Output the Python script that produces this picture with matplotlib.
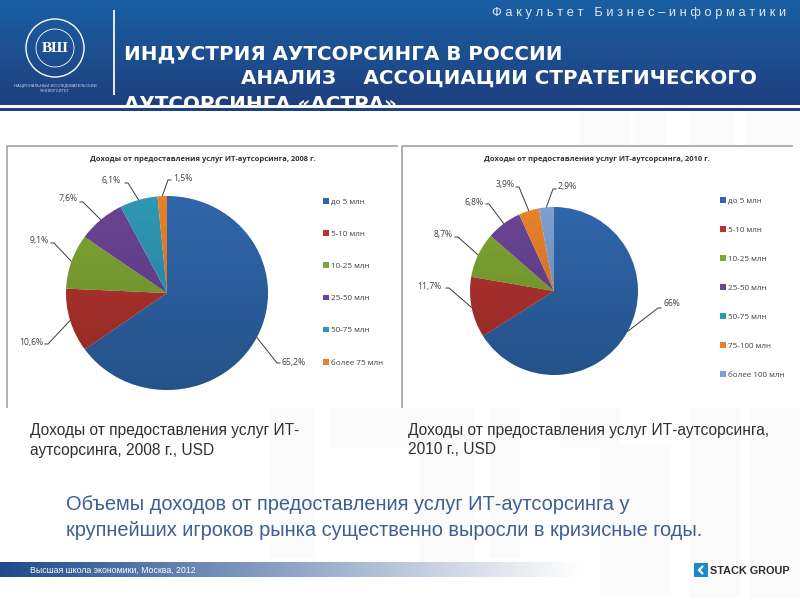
import numpy as np
import matplotlib
matplotlib.use("Agg")
import matplotlib.pyplot as plt
from matplotlib.patches import Rectangle, Circle, Polygon

# ---- data ----
cats_2008 = ["до 5 млн", "5-10 млн", "10-25 млн", "25-50 млн", "50-75 млн", "более 75 млн"]
vals_2008 = [65.2, 10.6, 9.1, 7.6, 6.1, 1.5]
labels_2008 = ["65,2%", "10,6%", "9,1%", "7,6%", "6,1%", "1,5%"]
cats_2010 = ["до 5 млн", "5-10 млн", "10-25 млн", "25-50 млн", "50-75 млн", "75-100 млн", "более 100 млн"]
vals_2010 = [66, 11.7, 8.7, 6.8, 0, 3.9, 2.9]
labels_2010 = ["66%", "11,7%", "8,7%", "6,8%", "", "3,9%", "2,9%"]

# ---- styles / layout ----
colors_2008 = ["#2f66ab", "#b5342f", "#7fa533", "#6a4495", "#2f97b4", "#e8822a"]
colors_2010 = ["#2f66ab", "#b5342f", "#7fa533", "#6a4495", "#2f97b4", "#e8822a", "#7f9fd0"]
LABEL_POS_2008 = [(294, 363), (31, 342), (39, 241), (68, 199), (111, 181), (183, 178)]
ELBOW_2008 = [(277, 363), (48, 344), (54, 243), (83, 202), (128, 183), (168, 180)]
LABEL_POS_2010 = [(672, 304), (429, 287), (443, 235), (474, 203), None, (505, 184), (567, 187)]
ELBOW_2010 = [(658, 308), (449, 288), (458, 237), (489, 204), None, (519, 187), (553, 189)]

plt.rcParams["font.family"] = ["Liberation Sans", "DejaVu Sans"]
fig = plt.figure(figsize=(8, 6), dpi=100, facecolor="white")
bg = fig.add_axes([0, 0, 1, 1], zorder=0)
bg.set_xlim(0, 800); bg.set_ylim(600, 0); bg.axis("off")


def vgrad(ax, x0, x1, y0, y1, c0, c1, z):
    c0 = np.array(matplotlib.colors.to_rgb(c0)); c1 = np.array(matplotlib.colors.to_rgb(c1))
    t = np.linspace(0, 1, 128)[:, None, None]
    ax.imshow(c0 + (c1 - c0) * t, extent=[x0, x1, y1, y0], aspect="auto", zorder=z)


# watermark
for r in [(580, 111, 50, 34), (635, 111, 30, 34), (690, 111, 45, 34), (745, 111, 55, 34),
          (270, 408, 45, 150), (330, 408, 90, 40), (420, 408, 55, 155), (490, 408, 30, 150),
          (560, 408, 60, 40), (600, 445, 70, 150), (690, 408, 50, 190), (750, 408, 50, 190)]:
    bg.add_patch(Rectangle(r[:2], r[2], r[3], fc="#fbfbfb", ec="none", zorder=0.5))

# header
vgrad(bg, 0, 800, 0, 105, "#1a5fa3", "#1f3f7e", 1)
bg.add_patch(Rectangle((0, 105), 800, 3, fc="#f4f7fb", ec="none", zorder=3))
bg.add_patch(Rectangle((0, 108), 800, 3, fc="#1f3f7e", ec="none", zorder=3))
bg.add_patch(Rectangle((0, 111), 580, 33, fc="white", ec="none", zorder=2.9))
bg.add_patch(Rectangle((112.5, 10), 2.5, 85, fc="#dfe7f2", ec="none", zorder=2))
for rad, lw in [(29, 1.0), (19, 0.6)]:
    bg.add_patch(Circle((55, 48), rad, fc="none", ec="white", lw=lw, zorder=2))
bg.text(55, 48, "ВШ", color="white", fontsize=11, fontweight="bold", ha="center", va="center",
        family="Liberation Serif", zorder=2)
bg.text(55, 85.5, "НАЦИОНАЛЬНЫЙ ИССЛЕДОВАТЕЛЬСКИЙ", color="#cdd8e8", fontsize=2.9, ha="center", va="center", zorder=2)
bg.text(55, 90.5, "УНИВЕРСИТЕТ", color="#cdd8e8", fontsize=2.9, ha="center", va="center", zorder=2)
bg.text(786, 13, "Ф а к у л ь т е т   Б и з н е с – и н ф о р м а т и к и", color="#dfe7f2", fontsize=9.3,
        ha="right", va="center", zorder=2)
title_kw = dict(color="white", fontsize=14.3, fontweight="bold", family="DejaVu Sans", va="center", zorder=2)
bg.text(124, 54, "ИНДУСТРИЯ АУТСОРСИНГА В РОССИИ", **title_kw)
bg.text(241, 78, "АНАЛИЗ    АССОЦИАЦИИ СТРАТЕГИЧЕСКОГО", **title_kw)
bg.text(124, 104, "АУТСОРСИНГА «АСТРА»", **title_kw)

# chart panels
bg.add_patch(Rectangle((7, 146), 391, 262, fc="white", ec="none", zorder=3))
bg.add_patch(Rectangle((402, 146), 392, 262, fc="white", ec="none", zorder=3))
for xs, ys in [((6.5, 6.5, 398), (408, 145.5, 145.5)), ((402, 402, 793), (408, 145.5, 145.5))]:
    bg.plot(xs, ys, color="#9a9a9a", lw=1.1, zorder=3.5, solid_capstyle="butt")

chart_font = "Open Sans"


def draw_pie(vals, cols, cats, labels, cx, cy, rx, ry, lpos, elbow, title, tx, lx, ly, spacing):
    ax = fig.add_axes([(cx - rx) / 800, 1 - (cy + ry) / 600, 2 * rx / 800, 2 * ry / 600], zorder=2)
    wedges, _ = ax.pie(vals, colors=cols, startangle=90, counterclock=False, radius=1.0,
                       wedgeprops=dict(lw=0))
    ax.set_aspect("auto")
    # soft top-to-bottom shading of the pie
    shade = np.zeros((128, 1, 4)); shade[:, 0, 3] = np.linspace(0, 0.2, 128)
    im = ax.imshow(shade, extent=[-1, 1, -1, 1], aspect="auto", zorder=3)
    im.set_clip_path(Circle((0, 0), 1, transform=ax.transData))
    ax.set_xlim(-1, 1); ax.set_ylim(-1, 1)
    total = sum(vals); start = 0
    for v, lab, lp, el in zip(vals, labels, lpos, elbow):
        mid = start + v / 2; start += v
        if not lab:
            continue
        ang = np.deg2rad(90 - mid / total * 360)
        wx, wy = cx + rx * np.cos(ang), cy - ry * np.sin(ang)
        side = -1 if lp[0] < el[0] else 1
        bg.plot([el[0] + side * 3, el[0], wx], [el[1], el[1], wy], color="#3a3a3a", lw=0.7, zorder=4)
        bg.text(lp[0], lp[1], lab, fontsize=6.2, color="#404040", ha="center", va="center", family=chart_font, zorder=4)
    bg.text(tx, 159.5, title, fontsize=5.4, fontweight="bold", color="#303030", ha="center", va="center",
            family=chart_font, zorder=4)
    ax.legend(wedges, cats, loc="upper left", bbox_to_anchor=(lx / 800, 1 - ly / 600),
              bbox_transform=fig.transFigure, frameon=False, borderpad=0, borderaxespad=0,
              labelspacing=spacing, handlelength=0.7, handleheight=0.7, handletextpad=0.35,
              prop=dict(family=chart_font, size=5.8), labelcolor="#404040")
    return ax


draw_pie(vals_2008, colors_2008, cats_2008, labels_2008, 167, 293, 101, 97, LABEL_POS_2008, ELBOW_2008,
         "Доходы от предоставления услуг ИТ-аутсорсинга, 2008 г.", 203, 323, 198, 3.05)
draw_pie(vals_2010, colors_2010, cats_2010, labels_2010, 554, 291, 84, 84, LABEL_POS_2010, ELBOW_2010,
         "Доходы от предоставления услуг ИТ-аутсорсинга, 2010 г.", 597, 720, 197, 2.65)

# captions
cap = dict(fontsize=11.2, color="#303030", va="center", zorder=4)
bg.text(30, 430, "Доходы от предоставления услуг ИТ-", **cap)
bg.text(30, 450, "аутсорсинга, 2008 г., USD", **cap)
bg.text(408, 430, "Доходы от предоставления услуг ИТ-аутсорсинга,", **cap)
bg.text(408, 450, "2010 г., USD", **cap)
body = dict(fontsize=14.4, color="#3d5f93", va="center", zorder=4)
bg.text(66, 505, "Объемы доходов от предоставления услуг ИТ-аутсорсинга у", **body)
bg.text(66, 530, "крупнейших игроков рынка существенно выросли в кризисные годы.", **body)

# footer
t = np.linspace(0, 1, 256)[None, :, None]
c0 = np.array(matplotlib.colors.to_rgb("#1f4a8c")); c1 = np.array([1, 1, 1.])
bg.imshow(np.clip(c0 + (c1 - c0) * t, 0, 1), extent=[0, 580, 577.5, 563], aspect="auto", zorder=3)
bg.text(30, 570.5, "Высшая школа экономики, Москва, 2012", fontsize=6.3, color="white", va="center", zorder=4)
bg.add_patch(Rectangle((693.5, 563), 14, 14, fc="#1f88c9", ec="none", zorder=4))
bg.add_patch(Polygon([(703, 566), (699, 570), (703, 574)], closed=False, fc="none", ec="white", lw=1.6, zorder=5))
bg.text(710.5, 570.5, "STACK GROUP", fontsize=7.8, fontweight="bold", color="#2b2b2b", va="center", zorder=4)

bg.set_xlim(0, 800); bg.set_ylim(600, 0)
fig.savefig("out.png", dpi=100, facecolor="white")
